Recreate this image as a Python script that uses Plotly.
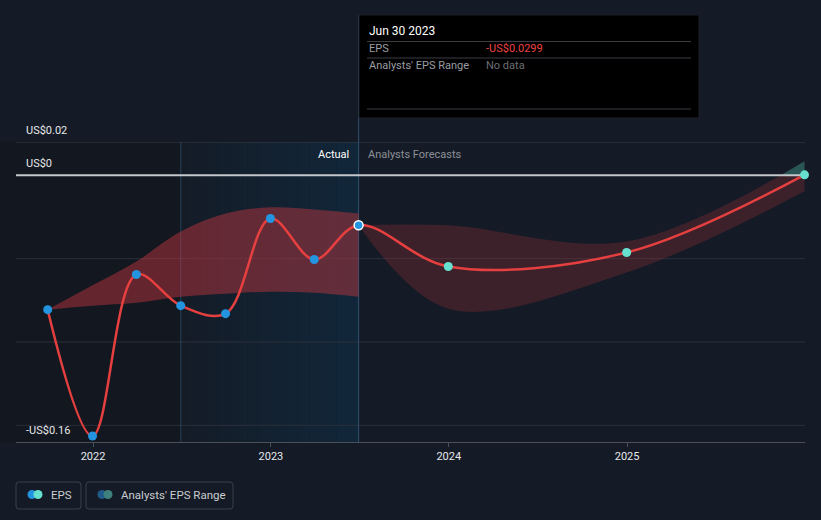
import plotly.graph_objects as go
import pandas as pd

# ---------------- data ----------------
actual_dates = ["2021-09-30", "2021-12-31", "2022-03-31", "2022-06-30",
                "2022-09-30", "2022-12-31", "2023-03-31", "2023-06-30"]
actual_eps = [-0.0806, -0.1564, -0.0595, -0.0782, -0.0830, -0.0259, -0.0505, -0.0299]

past_range_upper = [-0.0806, -0.0660, -0.0517, -0.0337, -0.0229, -0.0192, -0.0205, -0.0229]
past_range_lower = [-0.0806, -0.0782, -0.0764, -0.0728, -0.0710, -0.0698, -0.0704, -0.0728]

forecast_dates = ["2023-06-30", "2023-12-31", "2024-12-31", "2025-12-31"]
forecast_eps = [-0.0299, -0.0547, -0.0463, 0.0003]
forecast_upper = [-0.0299, -0.0300, -0.0397, 0.0084]
forecast_lower = [-0.0299, -0.0800, -0.0583, -0.0096]

tick_dates = ["2022-01-01", "2023-01-01", "2024-01-01", "2025-01-01"]
tick_labels = ["2022", "2023", "2024", "2025"]

x_range = ["2021-07-27", "2026-01-01"]
y_range = [-0.16, 0.02]
y_grid = [-0.15, -0.10, -0.05]
y_labels = {"US$0.02": 0.02, "US$0": 0.0, "-US$0.16": -0.16}

past_start = "2022-06-30"
today = "2023-06-30"

tooltip_date = "Jun 30 2023"
tooltip_eps = "-US$0.0299"

# ---------------- style ----------------
BG = "#151b26"
RED = "#e5403f"
BLUE = "#2394df"
TEAL = "#66e0cf"
FONT = "Roboto"

W, H = 821, 520
L, R, T, B = 16, 16, 142, 78
PW, PH = W - L - R, H - T - B


def px(xp):
    return (xp - L) / PW


def py(yp):
    return (H - B - yp) / PH


zero_frac = (0 - y_range[0]) / (y_range[1] - y_range[0])

shapes = []
annotations = []

# past (darker) region, reaching to the page's left edge
shapes.append(dict(type="rect", xref="paper", yref="paper", x0=px(0), x1=px(181),
                   y0=0, y1=1, fillcolor="#13171f", line=dict(width=0), layer="below"))
# highlighted last-year region: horizontal gradient built from thin stripes
n_str = 40
c0, c1 = (20, 28, 39), (17, 39, 58)
edges = pd.date_range(past_start, today, periods=n_str + 1)
for i in range(n_str):
    t = (i + 0.5) / n_str
    col = tuple(round(a + (b - a) * t) for a, b in zip(c0, c1))
    shapes.append(dict(type="rect", xref="x", yref="paper",
                       x0=edges[i], x1=edges[i + 1] + pd.Timedelta(hours=12),
                       y0=0, y1=1, fillcolor="rgb(%d,%d,%d)" % col,
                       line=dict(width=0), layer="below"))

fig = go.Figure()

# forecast band - teal part (above zero), clipped by y2 domain
fig.add_trace(go.Scatter(x=forecast_dates, y=forecast_upper, mode="lines",
                         line=dict(width=0, shape="spline"), yaxis="y2",
                         hoverinfo="skip", showlegend=False))
fig.add_trace(go.Scatter(x=forecast_dates, y=forecast_lower, mode="lines",
                         line=dict(width=0, shape="spline"), fill="tonexty",
                         fillcolor="rgba(72,170,150,0.42)", yaxis="y2",
                         hoverinfo="skip", showlegend=False))
# forecast band - red part (below zero), clipped by y3 domain
fig.add_trace(go.Scatter(x=forecast_dates, y=forecast_upper, mode="lines",
                         line=dict(width=0, shape="spline"), yaxis="y3",
                         hoverinfo="skip", showlegend=False))
fig.add_trace(go.Scatter(x=forecast_dates, y=forecast_lower, mode="lines",
                         line=dict(width=0, shape="spline"), fill="tonexty",
                         fillcolor="rgba(200,55,65,0.22)", yaxis="y3",
                         hoverinfo="skip", showlegend=False))

# past analysts' range band (top subplot y4)
fig.add_trace(go.Scatter(x=actual_dates, y=past_range_upper, mode="lines",
                         line=dict(width=0, shape="spline"), yaxis="y4",
                         hoverinfo="skip", showlegend=False))
fig.add_trace(go.Scatter(x=actual_dates, y=past_range_lower, mode="lines",
                         line=dict(width=0, shape="spline"), fill="tonexty",
                         fillcolor="rgba(200,55,65,0.45)", yaxis="y4",
                         hoverinfo="skip", showlegend=False))

# zero line
fig.add_trace(go.Scatter(x=x_range, y=[0, 0], mode="lines", yaxis="y4",
                         line=dict(color="#c4c7cc", width=2),
                         hoverinfo="skip", showlegend=False))

# EPS line (actual + forecast)
line_x = actual_dates + forecast_dates[1:]
line_y = actual_eps + forecast_eps[1:]
fig.add_trace(go.Scatter(x=line_x, y=line_y, mode="lines", yaxis="y4",
                         line=dict(color=RED, width=2.5, shape="spline"),
                         hoverinfo="skip", showlegend=False))

# markers
fig.add_trace(go.Scatter(x=actual_dates[:-1], y=actual_eps[:-1], mode="markers",
                         yaxis="y4", marker=dict(color=BLUE, size=9),
                         cliponaxis=False, hoverinfo="skip", showlegend=False))
fig.add_trace(go.Scatter(x=forecast_dates[1:], y=forecast_eps[1:], mode="markers",
                         yaxis="y4", marker=dict(color=TEAL, size=9),
                         cliponaxis=False, hoverinfo="skip", showlegend=False))
fig.add_trace(go.Scatter(x=[actual_dates[-1]], y=[actual_eps[-1]], mode="markers",
                         yaxis="y4",
                         marker=dict(color=BLUE, size=9,
                                     line=dict(color="white", width=1.5)),
                         cliponaxis=False, hoverinfo="skip", showlegend=False))

# gridlines
for gv in y_grid:
    shapes.append(dict(type="line", xref="paper", yref="y", x0=0, x1=1, y0=gv, y1=gv,
                       line=dict(color="#2a303a", width=1), layer="below"))
# top gridline
shapes.append(dict(type="line", xref="paper", yref="y", x0=0, x1=1,
                   y0=y_range[1], y1=y_range[1],
                   line=dict(color="#393f49", width=1), layer="below"))
# boundary of the highlight
shapes.append(dict(type="line", xref="x", yref="paper", x0=past_start, x1=past_start,
                   y0=0, y1=1, line=dict(color="rgba(60,110,160,0.45)", width=1),
                   layer="below"))
# hover vertical line
shapes.append(dict(type="line", xref="x", yref="paper", x0=today, x1=today,
                   y0=0, y1=py(15), line=dict(color="#2e5070", width=1),
                   layer="below"))

# tooltip
shapes.append(dict(type="rect", xref="paper", yref="paper",
                   x0=px(359), x1=px(699), y0=py(118), y1=py(15),
                   fillcolor="#000000", line=dict(color="#1c1f24", width=1)))
for yy in (41.5, 58, 109):
    shapes.append(dict(type="line", xref="paper", yref="paper",
                       x0=px(367), x1=px(691), y0=py(yy), y1=py(yy),
                       line=dict(color="#3b3d42", width=1)))

annotations += [
    dict(xref="paper", yref="paper", x=px(367), y=py(31), text=tooltip_date,
         showarrow=False, xanchor="left", yanchor="middle",
         font=dict(family=FONT, size=12, color="#ffffff")),
    dict(xref="paper", yref="paper", x=px(367), y=py(49), text="EPS",
         showarrow=False, xanchor="left", yanchor="middle",
         font=dict(family=FONT, size=11, color="#9a9da3")),
    dict(xref="paper", yref="paper", x=px(484), y=py(49), text=tooltip_eps,
         showarrow=False, xanchor="left", yanchor="middle",
         font=dict(family=FONT, size=11, color="#ef4242")),
    dict(xref="paper", yref="paper", x=px(367), y=py(66), text="Analysts' EPS Range",
         showarrow=False, xanchor="left", yanchor="middle",
         font=dict(family=FONT, size=11, color="#9a9da3")),
    dict(xref="paper", yref="paper", x=px(484), y=py(66), text="No data",
         showarrow=False, xanchor="left", yanchor="middle",
         font=dict(family=FONT, size=11, color="#6b6e74")),
]

# Actual / Forecast labels
annotations += [
    dict(xref="x", yref="paper", x=today, y=py(154), text="Actual",
         showarrow=False, xanchor="right", yanchor="middle", xshift=-8,
         font=dict(family=FONT, size=11, color="#ffffff")),
    dict(xref="x", yref="paper", x=today, y=py(154), text="Analysts Forecasts",
         showarrow=False, xanchor="left", yanchor="middle", xshift=7,
         font=dict(family=FONT, size=11, color="#8c9097")),
]

# y labels
for txt, val in y_labels.items():
    annotations.append(dict(xref="paper", yref="y", x=px(24), y=val, text=txt,
                            showarrow=False, xanchor="left", yanchor="bottom",
                            yshift=3,
                            font=dict(family=FONT, size=11, color="#e6e8eb")))


# legend boxes
def rrect(x0p, y0p, x1p, y1p, r=3):
    rx, ry = r / PW, r / PH
    x0, x1 = px(x0p), px(x1p)
    yt, yb = py(y0p), py(y1p)
    return (f"M {x0+rx},{yt} L {x1-rx},{yt} Q {x1},{yt} {x1},{yt-ry} "
            f"L {x1},{yb+ry} Q {x1},{yb} {x1-rx},{yb} L {x0+rx},{yb} "
            f"Q {x0},{yb} {x0},{yb+ry} L {x0},{yt-ry} Q {x0},{yt} {x0+rx},{yt} Z")


legend_items = [("EPS", 16, 81, [(32, BLUE), (38, TEAL)], 49),
                ("Analysts' EPS Range", 86, 233, [(102, "#1f5a8a"), (108, "#3e807b")], 119)]
for name, bx0, bx1, dots, tx in legend_items:
    shapes.append(dict(type="path", xref="paper", yref="paper",
                       path=rrect(bx0, 482, bx1, 509),
                       line=dict(color="#3a404a", width=1), fillcolor="rgba(0,0,0,0)"))
    for cx, col in dots:
        shapes.append(dict(type="circle", xref="paper", yref="paper",
                           xsizemode="pixel", ysizemode="pixel",
                           xanchor=px(cx), yanchor=py(494.5),
                           x0=-4.5, x1=4.5, y0=-4.5, y1=4.5,
                           fillcolor=col, line=dict(width=0)))
    annotations.append(dict(xref="paper", yref="paper", x=px(tx), y=py(495),
                            text=name, showarrow=False, xanchor="left",
                            yanchor="middle",
                            font=dict(family=FONT, size=11.5, color="#c9ccd1")))

fig.update_layout(
    width=W, height=H,
    margin=dict(l=L, r=R, t=T, b=B, pad=0),
    paper_bgcolor=BG, plot_bgcolor="rgba(0,0,0,0)",
    showlegend=False,
    font=dict(family=FONT, color="#e6e8eb"),
    xaxis=dict(type="date", range=x_range, tickvals=tick_dates, ticktext=tick_labels,
               showgrid=False, zeroline=False, showline=True,
               linecolor="#4a4f58", linewidth=1, ticks="outside", ticklen=4,
               tickcolor="#4a4f58", tickfont=dict(family=FONT, size=11, color="#e6e8eb"),
               fixedrange=True),
    yaxis=dict(range=y_range, showticklabels=False, showgrid=False,
               zeroline=False, showline=False, fixedrange=True),
    yaxis2=dict(domain=[zero_frac, 1], range=[0, y_range[1]], visible=False,
                anchor="x", fixedrange=True),
    yaxis3=dict(domain=[0, zero_frac], range=[y_range[0], 0], visible=False,
                anchor="x", fixedrange=True),
    yaxis4=dict(domain=[0, 1], range=y_range, visible=False,
                anchor="x", fixedrange=True),
    shapes=shapes,
    annotations=annotations,
)

fig.write_html("out.html", config={"displayModeBar": False},
               post_script="document.body.style.margin='0';")
